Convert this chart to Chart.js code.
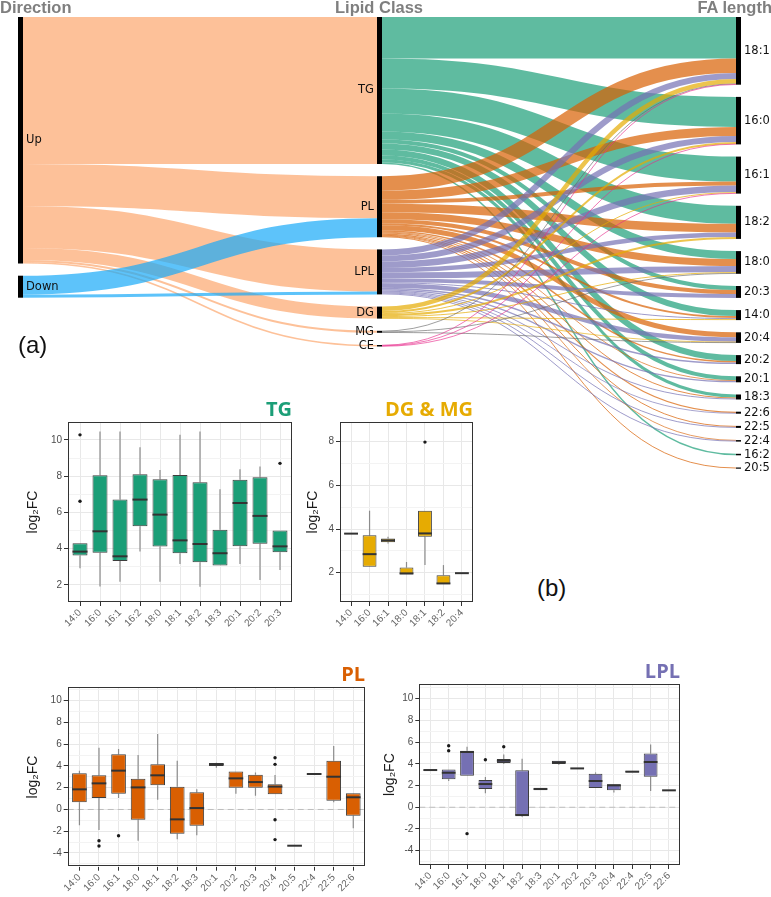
<!DOCTYPE html>
<html><head><meta charset="utf-8">
<script src="https://cdn.jsdelivr.net/npm/chart.js@4.4.1/dist/chart.umd.min.js"></script>
<style>
html,body{margin:0;padding:0;background:#fff;overflow:hidden;width:771px;height:897px;}
#wrap{position:relative;width:771px;height:897px;overflow:hidden;}
canvas{position:absolute;}
.lab{position:absolute;font-family:'Liberation Sans',Arial,sans-serif;white-space:nowrap;line-height:1;z-index:5;}
.hdr{font-weight:bold;font-size:16.5px;color:#7f7f7f;}
</style></head><body><div id="wrap">
<canvas id="sankey" width="771" height="480" style="left:0;top:0"></canvas>
<canvas id="tg" width="290" height="250" style="left:10px;top:390px"></canvas>
<canvas id="dg" width="190" height="250" style="left:290px;top:390px"></canvas>
<canvas id="pl" width="362" height="247" style="left:10px;top:650px"></canvas>
<canvas id="lpl" width="320" height="247" style="left:367px;top:650px"></canvas>
<div class="lab hdr" style="left:0;top:-1.5px">Direction</div>
<div class="lab hdr" style="left:279px;width:200px;text-align:center;top:-1.5px">Lipid Class</div>
<div class="lab hdr" style="right:-1px;text-align:right;top:-1.5px">FA length</div>
<div class="lab" style="left:18px;top:332.7px;font-size:24px;color:#111">(a)</div>
<div class="lab" style="left:537px;top:575.7px;font-size:24px;color:#111">(b)</div>
</div>
<script>
// ---------------- Sankey data ----------------
const directionNodes = ['Up', 'Down'];
const classNodes = ['TG', 'PL', 'LPL', 'DG', 'MG', 'CE'];
const faNodes = ['18:1','16:0','16:1','18:2','18:0','20:3','14:0','20:4','20:2','20:1','18:3','22:6','22:5','22:4','16:2','20:5'];
const upToClass   = [147, 42, 42, 12, 2, 1.5];
const downToClass = [0, 19, 3, 0, 0, 0];
const tgToFA  = [41.5, 30, 25, 18, 8, 4, 6, 0, 6, 4, 3, 0, 0, 0, 1.5, 0];
const plToFA  = [14.5, 9, 4, 8.6, 7, 4, 2, 5, 1.5, 0.7, 1, 1.2, 1, 0.5, 0, 1];
const lplToFA = [6, 6, 6.5, 4.5, 6, 3.9, 1, 4.5, 1.5, 1.3, 1, 0.8, 1, 1, 0, 0];
const dgToFA  = [4.5, 2, 1, 2, 1, 0, 1, 0.5, 0, 0, 0, 0, 0, 0, 0, 0];
const mgToFA  = [0.7, 0, 0, 0, 0.7, 0, 0, 0.6, 0, 0, 0, 0, 0, 0, 0, 0];
const ceToFA  = [0.5, 0.5, 0.5, 0, 0, 0, 0, 0, 0, 0, 0, 0, 0, 0, 0, 0];

// ---------------- Box plot data ----------------
const tgCats = ['14:0','16:0','16:1','16:2','18:0','18:1','18:2','18:3','20:1','20:2','20:3'];
const tgLow  = [2.92, 1.92, 2.18, 3.84, 2.18, 3.16, 1.90, 3.07, 3.16, 2.28, 2.83];
const tgQ1   = [3.62, 3.78, 3.32, 5.24, 4.12, 3.75, 3.25, 3.07, 4.13, 4.28, 3.80];
const tgMed  = [3.84, 4.96, 3.58, 6.71, 5.88, 4.46, 4.26, 3.75, 6.52, 5.81, 4.13];
const tgQ3   = [4.30, 8.05, 6.71, 8.11, 7.83, 8.07, 7.66, 5.05, 7.81, 7.94, 5.00];
const tgHigh = [4.30, 10.46, 10.46, 9.60, 8.34, 10.28, 10.46, 7.28, 8.38, 8.53, 5.00];
const tgOut  = [['14:0', 10.28], ['14:0', 6.62], ['20:3', 8.71]];

const dgCats = ['14:0','16:0','16:1','18:0','18:1','18:2','20:4'];
const dgLow  = [3.77, 2.27, 3.34, 1.92, 2.35, 1.48, 1.98];
const dgQ1   = [3.77, 2.27, 3.39, 1.92, 3.65, 1.48, 1.98];
const dgMed  = [3.79, 2.85, 3.48, 1.97, 3.80, 1.51, 1.98];
const dgQ3   = [3.81, 3.71, 3.57, 2.24, 4.84, 1.89, 1.98];
const dgHigh = [3.81, 4.84, 3.65, 2.49, 4.84, 2.35, 1.98];
const dgOut  = [['18:1', 7.98]];

const plCats = ['14:0','16:0','16:1','18:0','18:1','18:2','18:3','20:1','20:2','20:3','20:4','20:5','22:4','22:5','22:6'];
const plLow  = [-1.46, -1.89, 1.05, -2.87, 0.90, -2.74, -2.38, 3.84, 1.45, 1.27, 1.39, -3.33, 3.22, 0.66, -1.73];
const plQ1   = [0.66, 1.05, 1.45, -0.94, 2.22, -2.22, -1.49, 4.00, 2.00, 2.00, 1.39, -3.33, 3.22, 0.81, -0.57];
const plMed  = [1.85, 2.40, 3.57, 2.03, 3.14, -0.91, 0.13, 4.15, 2.86, 2.52, 2.10, -3.33, 3.26, 3.01, 1.12];
const plQ3   = [3.32, 3.14, 5.07, 2.83, 4.15, 2.10, 1.58, 4.27, 3.50, 3.20, 2.31, -3.33, 3.30, 4.49, 1.48];
const plHigh = [3.57, 5.68, 5.56, 5.01, 6.94, 4.49, 1.85, 4.30, 3.50, 3.41, 3.17, -3.33, 3.30, 5.83, 1.50];
const plOut  = [['16:0', -2.87], ['16:0', -3.36], ['16:1', -2.41], ['20:4', 4.76], ['20:4', 4.15], ['20:4', -0.94], ['20:4', -2.77]];

const lplCats = ['14:0','16:0','16:1','18:0','18:1','18:2','18:3','20:1','20:2','20:3','20:4','22:4','22:5','22:6'];
const lplLow  = [3.37, 2.42, 2.91, 1.28, 3.98, -0.87, 1.56, 3.92, 3.58, 1.77, 1.37, 3.21, 1.50, 1.56];
const lplQ1   = [3.37, 2.57, 2.91, 1.68, 4.07, -0.72, 1.56, 3.98, 3.58, 1.77, 1.56, 3.21, 2.82, 1.56];
const lplMed  = [3.43, 3.18, 5.09, 2.14, 4.29, -0.72, 1.68, 4.14, 3.58, 2.42, 2.02, 3.28, 4.17, 1.56];
const lplQ3   = [3.49, 3.49, 5.21, 2.51, 4.44, 3.40, 1.80, 4.29, 3.58, 3.09, 2.11, 3.34, 4.96, 1.56];
const lplHigh = [3.49, 3.49, 5.58, 2.78, 4.87, 4.47, 1.80, 4.29, 3.58, 3.21, 2.11, 3.34, 5.79, 1.56];
const lplOut  = [['16:0', 5.67], ['16:0', 5.21], ['16:1', -2.43], ['18:0', 4.38], ['18:1', 5.58]];

// ---------------- Sankey ----------------
const dirColors = ['rgba(252,166,110,0.7)', 'rgba(24,169,248,0.7)'];
const classColors = ['rgba(27,158,119,0.7)', 'rgba(217,95,2,0.7)', 'rgba(117,112,179,0.7)',
                     'rgba(230,171,2,0.7)', 'rgba(102,102,102,0.7)', 'rgba(231,41,138,0.7)'];
const colX = [18, 377, 736], nodeW = 5, nodeGap = 12.2, nodeTop = 17;

function buildSankey() {
  const links = [];
  [upToClass, downToClass].forEach((row, i) => row.forEach((v, j) => {
    if (v > 0) links.push({ s: directionNodes[i], t: classNodes[j], v, c: dirColors[i] });
  }));
  [tgToFA, plToFA, lplToFA, dgToFA, mgToFA, ceToFA].forEach((row, i) => row.forEach((v, j) => {
    if (v > 0) links.push({ s: classNodes[i], t: faNodes[j], v, c: classColors[i] });
  }));
  const nodes = {};
  [directionNodes, classNodes, faNodes].forEach((names, ci) => {
    let y = nodeTop;
    names.forEach(n => {
      const vin = links.filter(l => l.t === n).reduce((a, l) => a + l.v, 0);
      const vout = links.filter(l => l.s === n).reduce((a, l) => a + l.v, 0);
      const v = Math.max(vin, vout);
      nodes[n] = { col: ci, y0: y, y1: y + v, outY: y, inY: y };
      y += v + nodeGap;
    });
  });
  links.forEach(l => {
    l.sy = nodes[l.s].outY; nodes[l.s].outY += l.v;
    l.ty = nodes[l.t].inY; nodes[l.t].inY += l.v;
  });
  return { nodes, links };
}
const sankeyLayout = buildSankey();

const sankeyPlugin = {
  id: 'sankeyDraw',
  afterDatasetsDraw(chart) {
    const { ctx, scales: { x, y } } = chart;
    const { nodes, links } = sankeyLayout;
    ctx.save();
    links.forEach(l => {
      const sc = nodes[l.s].col, tc = nodes[l.t].col;
      const x0 = x.getPixelForValue(colX[sc] + nodeW), x1 = x.getPixelForValue(colX[tc]);
      const y0 = y.getPixelForValue(l.sy + l.v / 2), y1 = y.getPixelForValue(l.ty + l.v / 2);
      const w = Math.abs(y.getPixelForValue(l.v) - y.getPixelForValue(0));
      const xm = (x0 + x1) / 2;
      ctx.beginPath();
      ctx.moveTo(x0, y0);
      ctx.bezierCurveTo(xm, y0, xm, y1, x1, y1);
      ctx.strokeStyle = l.c;
      ctx.lineWidth = Math.max(w, 0.9);
      ctx.stroke();
    });
    ctx.fillStyle = '#000';
    Object.entries(nodes).forEach(([name, n]) => {
      const px0 = x.getPixelForValue(colX[n.col]), px1 = x.getPixelForValue(colX[n.col] + nodeW);
      const py0 = y.getPixelForValue(n.y0), py1 = y.getPixelForValue(n.y1);
      ctx.fillStyle = '#000';
      ctx.fillRect(px0, py0, px1 - px0, Math.max(py1 - py0, 1.2));
    });
    ctx.font = '11.5px "DejaVu Sans", sans-serif';
    ctx.fillStyle = '#111';
    ctx.textBaseline = 'middle';
    Object.entries(nodes).forEach(([name, n]) => {
      const cy = y.getPixelForValue((n.y0 + n.y1) / 2);
      if (n.col === 1) {
        ctx.textAlign = 'right';
        ctx.fillText(name, x.getPixelForValue(colX[1] - 3), cy);
      } else {
        ctx.textAlign = 'left';
        ctx.fillText(name, x.getPixelForValue(colX[n.col] + nodeW + 3), cy);
      }
    });
    ctx.restore();
  }
};

new Chart(document.getElementById('sankey'), {
  type: 'scatter',
  data: { datasets: [{ data: [] }] },
  options: {
    responsive: false, animation: false, events: [],
    layout: { padding: 0 },
    plugins: { legend: { display: false }, tooltip: { enabled: false } },
    scales: {
      x: { type: 'linear', min: 0, max: 771, display: false },
      y: { type: 'linear', min: 0, max: 480, reverse: true, display: false }
    }
  },
  plugins: [sankeyPlugin]
});

// ---------------- Box plots ----------------
const panelBorder = {
  id: 'panelBorder',
  afterDraw(chart) {
    const { ctx, chartArea: a } = chart;
    ctx.save();
    ctx.strokeStyle = '#333';
    ctx.lineWidth = 1;
    ctx.strokeRect(Math.round(a.left) + 0.5, Math.round(a.top) + 0.5,
                   Math.round(a.right - a.left) - 1, Math.round(a.bottom - a.top) - 1);
    ctx.restore();
  }
};

function makeBox(id, d, look) {
  const statsPlugin = {
    id: 'boxStats',
    beforeDatasetsDraw(chart) {
      const { ctx, scales: { x, y }, chartArea: a } = chart;
      ctx.save();
      if (look.zeroLine) {
        const yz = y.getPixelForValue(0);
        ctx.strokeStyle = '#bdbdbd'; ctx.lineWidth = 1; ctx.setLineDash([6, 4]);
        ctx.beginPath(); ctx.moveTo(a.left, yz); ctx.lineTo(a.right, yz); ctx.stroke();
        ctx.setLineDash([]);
      }
      ctx.strokeStyle = '#8c8c8c'; ctx.lineWidth = 1.2;
      d.cats.forEach((c, i) => {
        const px = x.getPixelForValue(i);
        ctx.beginPath();
        ctx.moveTo(px, y.getPixelForValue(d.low[i])); ctx.lineTo(px, y.getPixelForValue(d.q1[i]));
        ctx.moveTo(px, y.getPixelForValue(d.q3[i])); ctx.lineTo(px, y.getPixelForValue(d.high[i]));
        ctx.stroke();
      });
      ctx.restore();
    },
    afterDatasetsDraw(chart) {
      const { ctx, scales: { y } } = chart;
      const meta = chart.getDatasetMeta(1);
      ctx.save();
      ctx.strokeStyle = '#333'; ctx.lineWidth = 2;
      meta.data.forEach((el, i) => {
        const py = y.getPixelForValue(d.med[i]);
        ctx.beginPath(); ctx.moveTo(el.x - el.width / 2, py); ctx.lineTo(el.x + el.width / 2, py); ctx.stroke();
      });
      ctx.restore();
    }
  };
  const n = d.cats.length;
  return new Chart(document.getElementById(id), {
    type: 'bar',
    data: {
      datasets: [
        { type: 'line', data: d.out.map(o => ({ x: d.cats.indexOf(o[0]), y: o[1] })), showLine: false,
          pointRadius: 1.7, pointHoverRadius: 1.7, pointBackgroundColor: '#1a1a1a', pointBorderWidth: 0, order: 0 },
        { type: 'bar', data: d.cats.map((c, i) => ({ x: i, y: [d.q1[i], d.q3[i]] })),
          backgroundColor: look.fill, borderColor: '#3d3d3d', borderWidth: 1, borderSkipped: false,
          categoryPercentage: 1, barPercentage: 0.75, order: 1 }
      ]
    },
    options: {
      responsive: false, animation: false, events: [],
      layout: { padding: { left: 0, top: look.padTop, right: look.padRight, bottom: 0 } },
      plugins: {
        legend: { display: false }, tooltip: { enabled: false },
        title: { display: true, text: look.title, align: 'end', color: look.titleColor,
                 font: { family: 'Open Sans', weight: 'bold', size: 20, lineHeight: 1.2 }, padding: 0 }
      },
      scales: {
        x: {
          type: 'linear', min: -0.6, max: n - 0.4, offset: false, bounds: 'data',
          afterBuildTicks: s => { s.ticks = d.cats.map((c, i) => ({ value: i })); },
          afterFit: s => { s.height = look.xAxisH; },
          ticks: { autoSkip: false, minRotation: 45, maxRotation: 45, padding: 1, color: '#666',
                   font: { family: 'Liberation Sans', size: 10 }, callback: v => d.cats[Math.round(v)] ?? '' },
          grid: { offset: false, color: '#E8E8E8', lineWidth: 1, tickLength: 4, tickColor: '#333' },
          border: { display: false }
        },
        y: {
          type: 'linear', min: look.yMin, max: look.yMax, beginAtZero: false, bounds: 'data',
          afterBuildTicks: s => {
            const t = [];
            for (let v = Math.ceil(look.yMin); v <= Math.floor(look.yMax); v++) t.push({ value: v });
            s.ticks = t;
          },
          afterFit: s => { s.width = look.yAxisW; },
          ticks: { autoSkip: false, padding: 2, color: '#4d4d4d', font: { family: 'Liberation Sans', size: 10 },
                   callback: v => (Math.abs(v % 2) < 1e-9 ? String(v) : '') },
          grid: { lineWidth: 1, tickLength: 4,
                  color: c => (c.tick && Math.abs(c.tick.value % 2) > 1e-9 ? '#F3F3F3' : '#E8E8E8'),
                  tickColor: c => (c.tick && Math.abs(c.tick.value % 2) > 1e-9 ? 'rgba(0,0,0,0)' : '#333') },
          border: { display: false },
          title: { display: true, text: 'log₂FC', color: '#1a1a1a',
                   font: { family: 'Liberation Sans', size: 14 }, padding: { top: 14.6, bottom: 0 } }
        }
      }
    },
    plugins: [statsPlugin, panelBorder]
  });
}

makeBox('tg', { cats: tgCats, low: tgLow, q1: tgQ1, med: tgMed, q3: tgQ3, high: tgHigh, out: tgOut },
  { fill: '#1B9E77', title: 'TG', titleColor: '#1B9E77', yMin: 1.06, yMax: 10.99,
    padTop: 8, padRight: 8, yAxisW: 58, xAxisH: 38, zeroLine: false });
makeBox('dg', { cats: dgCats, low: dgLow, q1: dgQ1, med: dgMed, q3: dgQ3, high: dgHigh, out: dgOut },
  { fill: '#E6AB02', title: 'DG & MG', titleColor: '#E6AB02', yMin: 0.66, yMax: 8.9,
    padTop: 8, padRight: 7, yAxisW: 50, xAxisH: 38, zeroLine: false });
makeBox('pl', { cats: plCats, low: plLow, q1: plQ1, med: plMed, q3: plQ3, high: plHigh, out: plOut },
  { fill: '#D95F02', title: 'PL', titleColor: '#D95F02', yMin: -5.26, yMax: 11.23,
    padTop: 13.3, padRight: 7, yAxisW: 57.7, xAxisH: 30.3, zeroLine: true });
makeBox('lpl', { cats: lplCats, low: lplLow, q1: lplQ1, med: lplMed, q3: lplQ3, high: lplHigh, out: lplOut },
  { fill: '#7570B3', title: 'LPL', titleColor: '#7570B3', yMin: -5.32, yMax: 11.33,
    padTop: 10.3, padRight: 7, yAxisW: 52.3, xAxisH: 32, zeroLine: true });
</script>
</body></html>
